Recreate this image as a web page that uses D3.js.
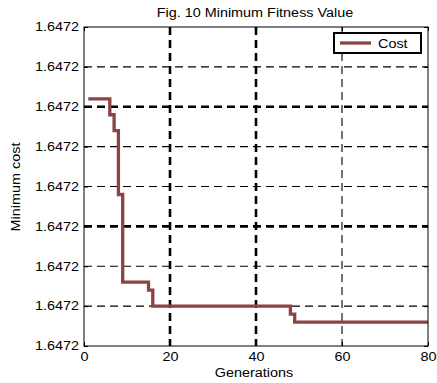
<!DOCTYPE html>
<html>
<head>
<meta charset="utf-8">
<script src="https://cdn.jsdelivr.net/npm/d3@7.9.0/dist/d3.min.js"></script>
<style>
  body { margin: 0; background: #fff; }
  text { font-family: "Liberation Sans", Arial, sans-serif; fill: #000; }
</style>
</head>
<body>
<svg id="chart" width="437" height="383"></svg>
<script>
// step data: generation where the best cost changes, and the cost reached
const generations = [1, 6, 7, 8, 9, 15, 16, 48, 49, 80];
const costs = [1.6472031, 1.6472029, 1.6472027, 1.6472019, 1.6472008, 1.6472007, 1.6472005, 1.6472004, 1.6472003, 1.6472003];
const xTicks = [0, 20, 40, 60, 80];
const yTicks = [1.6472, 1.6472005, 1.647201, 1.6472015, 1.647202, 1.6472025, 1.647203, 1.6472035, 1.647204];
const thickX = [20, 40];
const thickY = [1.647203, 1.6472015];

const svg = d3.select("#chart");
const plotLeft = 84, plotRight = 428, plotTop = 27, plotBottom = 346;

const x = d3.scaleLinear().domain([0, 80]).range([plotLeft, plotRight]);
const y = d3.scaleLinear().domain([1.6472, 1.647204]).range([plotBottom, plotTop]);

// grid lines
svg.append("g").selectAll("line")
    .data(yTicks.slice(1, -1))
    .enter().append("line")
    .attr("x1", plotLeft).attr("x2", plotRight)
    .attr("y1", d => y(d)).attr("y2", d => y(d))
    .attr("stroke", "#000")
    .attr("stroke-width", d => thickY.includes(d) ? 2.6 : 1.1)
    .attr("stroke-dasharray", "8,5");

svg.append("g").selectAll("line")
    .data(xTicks.slice(1, -1))
    .enter().append("line")
    .attr("y1", plotTop).attr("y2", plotBottom)
    .attr("x1", d => x(d)).attr("x2", d => x(d))
    .attr("stroke", "#000")
    .attr("stroke-width", d => thickX.includes(d) ? 2.6 : 1.1)
    .attr("stroke-dasharray", "8,5");

// cost line
const line = d3.line()
    .x((d, i) => x(generations[i]))
    .y(d => y(d))
    .curve(d3.curveStepAfter);

svg.append("path")
    .datum(costs)
    .attr("d", line)
    .attr("fill", "none")
    .attr("stroke", "#8b4343")
    .attr("stroke-width", 3.3);

// box
svg.append("rect")
    .attr("x", plotLeft).attr("y", plotTop)
    .attr("width", plotRight - plotLeft).attr("height", plotBottom - plotTop)
    .attr("fill", "none").attr("stroke", "#000").attr("stroke-width", 1);

// axes
const fmt = d3.format(".4f");
svg.append("g")
    .attr("transform", `translate(0,${plotBottom})`)
    .call(d3.axisBottom(x).tickValues(xTicks).tickSize(-4).tickPadding(6))
    .call(g => g.select(".domain").remove())
    .call(g => g.selectAll("text").attr("font-size", 12).attr("fill", "#000"));

svg.append("g")
    .attr("transform", `translate(${plotLeft},0)`)
    .call(d3.axisLeft(y).tickValues(yTicks).tickFormat(fmt).tickSize(-4).tickPadding(5))
    .call(g => g.select(".domain").remove())
    .call(g => g.selectAll("text").attr("font-size", 12).attr("fill", "#000"));

// top/right ticks
svg.append("g")
    .attr("transform", `translate(0,${plotTop})`)
    .call(d3.axisTop(x).tickValues(xTicks).tickSize(-4).tickFormat(""))
    .call(g => g.select(".domain").remove());
svg.append("g")
    .attr("transform", `translate(${plotRight},0)`)
    .call(d3.axisRight(y).tickValues(yTicks).tickSize(-4).tickFormat(""))
    .call(g => g.select(".domain").remove());

// title and labels
svg.append("text")
    .attr("x", 255).attr("y", 17)
    .attr("text-anchor", "middle").attr("font-size", 12)
    .text("Fig. 10 Minimum Fitness Value");

svg.append("text")
    .attr("x", 254).attr("y", 377)
    .attr("text-anchor", "middle").attr("font-size", 12)
    .text("Generations");

svg.append("text")
    .attr("transform", "translate(20,187) rotate(-90)")
    .attr("text-anchor", "middle").attr("font-size", 12)
    .text("Minimum cost");

// legend
const legend = svg.append("g");
legend.append("rect")
    .attr("x", 334).attr("y", 33)
    .attr("width", 87).attr("height", 20)
    .attr("fill", "#fff").attr("stroke", "#000").attr("stroke-width", 2);
legend.append("line")
    .attr("x1", 340).attr("x2", 371)
    .attr("y1", 43).attr("y2", 43)
    .attr("stroke", "#8b4343").attr("stroke-width", 3.3);
legend.append("text")
    .attr("x", 378).attr("y", 47.5)
    .attr("font-size", 12)
    .text("Cost");

// the original text is a little wider than Arial, stretch it
svg.selectAll("text").each(function () {
    const len = this.getComputedTextLength();
    if (len > 0) {
        d3.select(this).attr("textLength", len * 1.2).attr("lengthAdjust", "spacingAndGlyphs");
    }
});
</script>
</body>
</html>
